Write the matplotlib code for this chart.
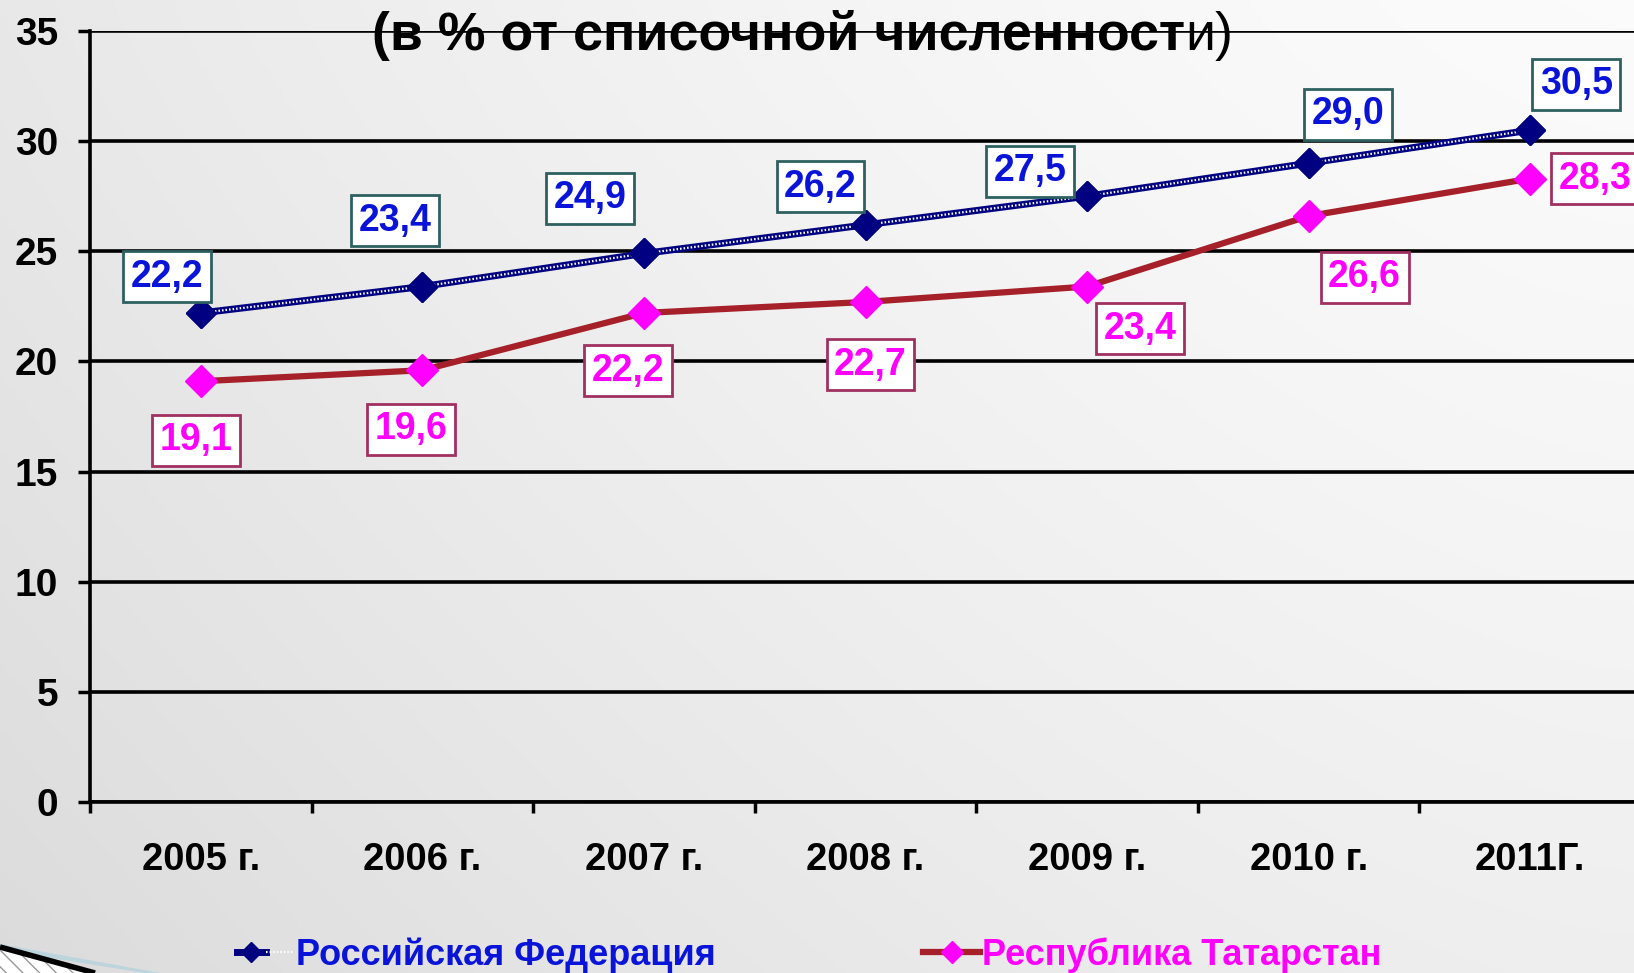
import numpy as np
import matplotlib
matplotlib.use("Agg")
import matplotlib.pyplot as plt
from matplotlib.patches import Polygon
from matplotlib.legend_handler import HandlerTuple

plt.rcParams['font.family'] = ['Liberation Sans', 'DejaVu Sans']

# ---- data ----
years = ["2005 г.", "2006 г.", "2007 г.", "2008 г.", "2009 г.", "2010 г.", "2011Г."]
rf_values = [22.2, 23.4, 24.9, 26.2, 27.5, 29.0, 30.5]
rt_values = [19.1, 19.6, 22.2, 22.7, 23.4, 26.6, 28.3]
rf_name = "Российская Федерация"
rt_name = "Республика Татарстан"
title_bold = "(в % от списочной численност"
title_tail = "и)"
y_ticks = [0, 5, 10, 15, 20, 25, 30, 35]

# label offsets (pixels) from each point
rf_offsets = [(-34, 36), (-27, 66), (-54, 55), (-45, 38), (-57, 25), (39, 49), (46, 46)]
rt_offsets = [(-5, -59), (-11, -59), (-16, -58), (5, -63), (53, -42), (56, -61), (65, 0)]

W, H = 1634, 973
fig = plt.figure(figsize=(W / 100, H / 100), dpi=100)

# background gradient
bg = fig.add_axes([0, 0, 1, 1], zorder=-10)
xx, yy = np.meshgrid(np.linspace(0, 1, 400), np.linspace(0, 1, 240))
v = 0.985 - 0.075 * (1 - xx) ** 1.5 - 0.05 * (1 - yy) ** 1.2
v = np.clip(v, 0, 1)
bg.imshow(np.dstack([v, v, v]), origin='lower', extent=[0, 1, 0, 1], aspect='auto')
bg.set_xlim(0, 1); bg.set_ylim(0, 1)
bg.axis('off')

# bottom-left swoosh decoration (figure pixel coords -> fraction)
def fp(pts):
    return [(x / W, 1 - y / H) for x, y in pts]
bg.add_patch(Polygon(fp([(0, 944), (0, 950), (145, 973), (160, 973)]), closed=True,
                     fc='#BCD4DC', ec='none', transform=fig.transFigure))
bg.add_patch(Polygon(fp([(0, 950), (0, 973), (95, 973)]), closed=True,
                     fc='white', ec='#999999', hatch='\\\\', lw=0, transform=fig.transFigure))
bg.plot([0, 95 / W], [1 - 947 / H, 1 - 973 / H], color='black', lw=4,
        transform=fig.transFigure, solid_capstyle='butt')

# main axes
ax = fig.add_axes([90 / W, (H - 802) / H, 1551 / W, 771 / H])
ax.patch.set_alpha(0)
x = np.arange(len(years))

rf_line, = ax.plot(x, rf_values, color='#000080', lw=5, marker='D', ms=15,
                   mfc='#000080', mec='#000080', zorder=4)
rf_dots, = ax.plot(x, rf_values, color='white', lw=1.6, ls=(0, (0.7, 0.9)), zorder=4.5)
rt_line, = ax.plot(x, rt_values, color='#A52028', lw=4.5, marker='D', ms=16.5,
                   mfc='#FF00FF', mec='#FF00FF', zorder=4)
# redraw markers on top of dots
ax.plot(x, rf_values, ls='none', marker='D', ms=15, mfc='#000080', mec='#000080', zorder=5)

ax.set_xlim(-0.5, len(years) - 0.5)
ax.set_ylim(0, 35)
ax.set_yticks(y_ticks)
ax.yaxis.grid(True, color='black', lw=2.6)
ax.set_axisbelow(True)
for s in ['top', 'right']:
    ax.spines[s].set_visible(False)
for s in ['left', 'bottom']:
    ax.spines[s].set_linewidth(2.6)
    ax.spines[s].set_color('black')

ax.set_xticks(x)
ax.set_xticklabels(years)
ax.set_xticks(np.arange(-0.5, len(years) + 0.5, 1), minor=True)
ax.tick_params(axis='x', which='major', length=0, pad=29, labelsize=27.5)
ax.tick_params(axis='x', which='minor', length=8, width=2.5, direction='out', color='black')
ax.tick_params(axis='y', length=9, width=2.5, pad=14, labelsize=28)
for lab in ax.get_xticklabels() + ax.get_yticklabels():
    lab.set_fontweight('bold')

# data labels
for xi, val, off in zip(x, rf_values, rf_offsets):
    ax.annotate(f"{val:.1f}".replace('.', ','), xy=(xi, val), xytext=off,
                textcoords='offset pixels', ha='center', va='center',
                fontsize=27, fontweight='bold', color='#0A14D8', zorder=6,
                annotation_clip=False,
                bbox=dict(boxstyle='square,pad=0.2', fc='white', ec='#2E6060', lw=2))
for xi, val, off in zip(x, rt_values, rt_offsets):
    ax.annotate(f"{val:.1f}".replace('.', ','), xy=(xi, val), xytext=off,
                textcoords='offset pixels', ha='center', va='center',
                fontsize=27, fontweight='bold', color='#FF00FF', zorder=6,
                annotation_clip=False,
                bbox=dict(boxstyle='square,pad=0.2', fc='white', ec='#A03060', lw=2))

# title
t1 = fig.text(372 / W, (H - 50) / H, title_bold, fontsize=38.7, fontweight='bold',
              ha='left', va='baseline', zorder=10)
ax.annotate(title_tail, xy=(1, 0), xycoords=t1, xytext=(0, 0), textcoords='offset points',
            ha='left', va='bottom', fontsize=38.7, fontweight='normal',
            annotation_clip=False, zorder=10)

# legend
leg = fig.legend([(rf_line, rf_dots), rt_line], [rf_name, rt_name], ncol=2,
                 loc='lower left', bbox_to_anchor=(237 / W, 0.0), frameon=False,
                 prop=dict(size=26, weight='bold'), handlelength=1.58,
                 handletextpad=0.05, columnspacing=5.75, borderpad=0, borderaxespad=0,
                 numpoints=1, markerscale=0.65,
                 handler_map={tuple: HandlerTuple(ndivide=None)})
leg.get_texts()[0].set_color('#0A14D8')
leg.get_texts()[1].set_color('#FF00FF')

fig.savefig("out.png", dpi=100)
